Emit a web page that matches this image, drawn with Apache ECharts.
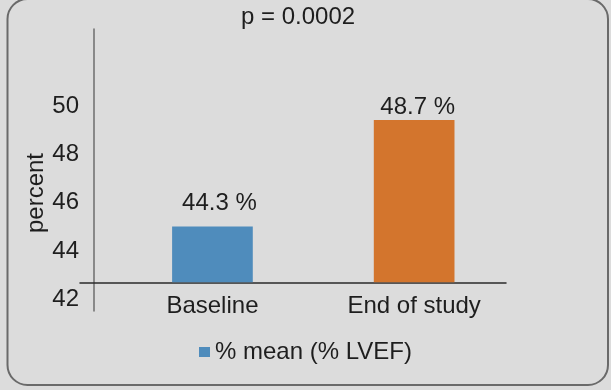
<!DOCTYPE html>
<html>
<head>
<meta charset="utf-8">
<script src="https://cdn.jsdelivr.net/npm/echarts@6/dist/echarts.min.js"></script>
<style>
  html, body { margin: 0; padding: 0; background: #dcdcdc; }
  #chart { width: 611px; height: 390px; }
</style>
</head>
<body>
<div id="chart"></div>
<script>
// ---- data ----
const categories = ['Baseline', 'End of study'];
const lvefMean = [44.3, 48.7];
const yTickLabels = [42, 44, 46, 48, 50];
const seriesName = '% mean (% LVEF)';
const titleText = 'p = 0.0002';
const yAxisTitle = 'percent';

// ---- styles ----
const barColors = ['#4f8cbc', '#d3752d'];
const labelOffsets = [[7, -6], [3.5, 4]];
const FONT = 'Liberation Sans, Arial, Helvetica, sans-serif';
const TXT = '#1e1e1e';

const chart = echarts.init(document.getElementById('chart'), null, { renderer: 'canvas' });

const option = {
  backgroundColor: '#dcdcdc',
  animation: false,
  textStyle: { fontFamily: FONT },
  title: {
    text: titleText,
    left: 241,
    top: 5,
    padding: 0,
    textStyle: { fontFamily: FONT, fontSize: 24, fontWeight: 'normal', color: TXT }
  },
  legend: {
    data: [seriesName],
    left: 199,
    top: 340,
    padding: 0,
    itemWidth: 11,
    itemHeight: 10,
    icon: 'rect',
    itemStyle: { color: barColors[0] },
    textStyle: { fontFamily: FONT, fontSize: 24, color: TXT, padding: [0, 0, 0, 0] }
  },
  grid: [
    { left: 111.6, right: 96, top: 29, bottom: 107.7 },
    { left: 80, right: 105, top: 29, bottom: 79 }
  ],
  xAxis: [
    {
      type: 'category',
      gridIndex: 0,
      data: categories,
      axisLine: { show: false },
      axisTick: { show: false },
      axisLabel: { margin: 12, fontFamily: FONT, fontSize: 24, color: TXT }
    },
    {
      type: 'value',
      gridIndex: 1,
      min: 0, max: 1,
      offset: -28.7,
      axisLine: { show: true, lineStyle: { color: '#2a2a2a', width: 1.5 } },
      axisTick: { show: false },
      axisLabel: { show: false },
      splitLine: { show: false }
    }
  ],
  yAxis: [
    {
      type: 'value',
      gridIndex: 0,
      min: 42,
      max: 52.45,
      interval: 2,
      offset: 17.6,
      axisLine: { show: false },
      axisTick: { show: false },
      splitLine: { show: false },
      axisLabel: {
        margin: 15,
        fontFamily: FONT,
        fontSize: 24,
        color: TXT,
        verticalAlign: 'top',
        lineHeight: 35,
        formatter: function (v) { return yTickLabels.indexOf(v) >= 0 ? String(v) : ''; }
      }
    },
    {
      type: 'value',
      gridIndex: 1,
      min: 0, max: 1,
      offset: -14,
      axisLine: { show: true, lineStyle: { color: '#6e6e6e', width: 1.5 } },
      axisTick: { show: false },
      axisLabel: { show: false },
      splitLine: { show: false }
    }
  ],
  series: [
    {
      name: seriesName,
      type: 'bar',
      xAxisIndex: 0,
      yAxisIndex: 0,
      barWidth: '40%',
      itemStyle: { color: barColors[0] },
      label: {
        show: true,
        position: 'top',
        distance: 5,
        fontFamily: FONT,
        fontSize: 24,
        color: TXT,
        formatter: '{c} %'
      },
      data: lvefMean.map(function (v, i) {
        return {
          value: v,
          itemStyle: { color: barColors[i] },
          label: { offset: labelOffsets[i] }
        };
      })
    }
  ],
  graphic: [
    {
      type: 'rect',
      z: -1,
      shape: { x: 7.5, y: -1, width: 600.5, height: 386, r: 20 },
      style: { fill: 'none', stroke: '#6a6a6a', lineWidth: 2 }
    },
    {
      type: 'text',
      x: 36.6,
      y: 193,
      rotation: Math.PI / 2,
      style: {
        text: yAxisTitle,
        fontFamily: FONT,
        fontSize: 24,
        fill: TXT,
        textAlign: 'center',
        textVerticalAlign: 'middle'
      }
    }
  ]
};

chart.setOption(option);
</script>
</body>
</html>
